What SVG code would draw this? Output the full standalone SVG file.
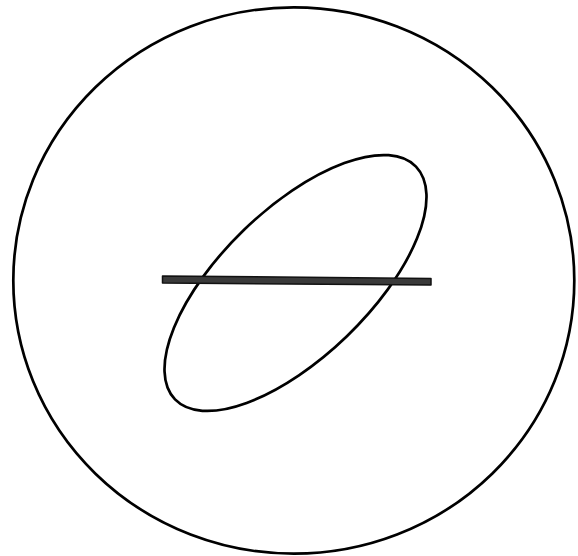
<svg xmlns="http://www.w3.org/2000/svg" width="578" height="556" viewBox="0 0 578 556">
<style>
.line{fill:none;stroke:#000;stroke-width:2.7}
.bar{fill:#3a3a3a;stroke:#111;stroke-width:1.5;stroke-linejoin:round}
</style>
<rect width="578" height="556" fill="#fff"/>
<ellipse id="outer" class="line" cx="293.8" cy="280.5" rx="280.5" ry="273.2"/>
<ellipse id="loop" class="line" cx="295.5" cy="283" rx="167.5" ry="74" transform="rotate(-44 295.5 283)"/>
<polygon id="bar" class="bar" points="162.5,276 431,278.5 431,285 162.5,283"/>
</svg>
